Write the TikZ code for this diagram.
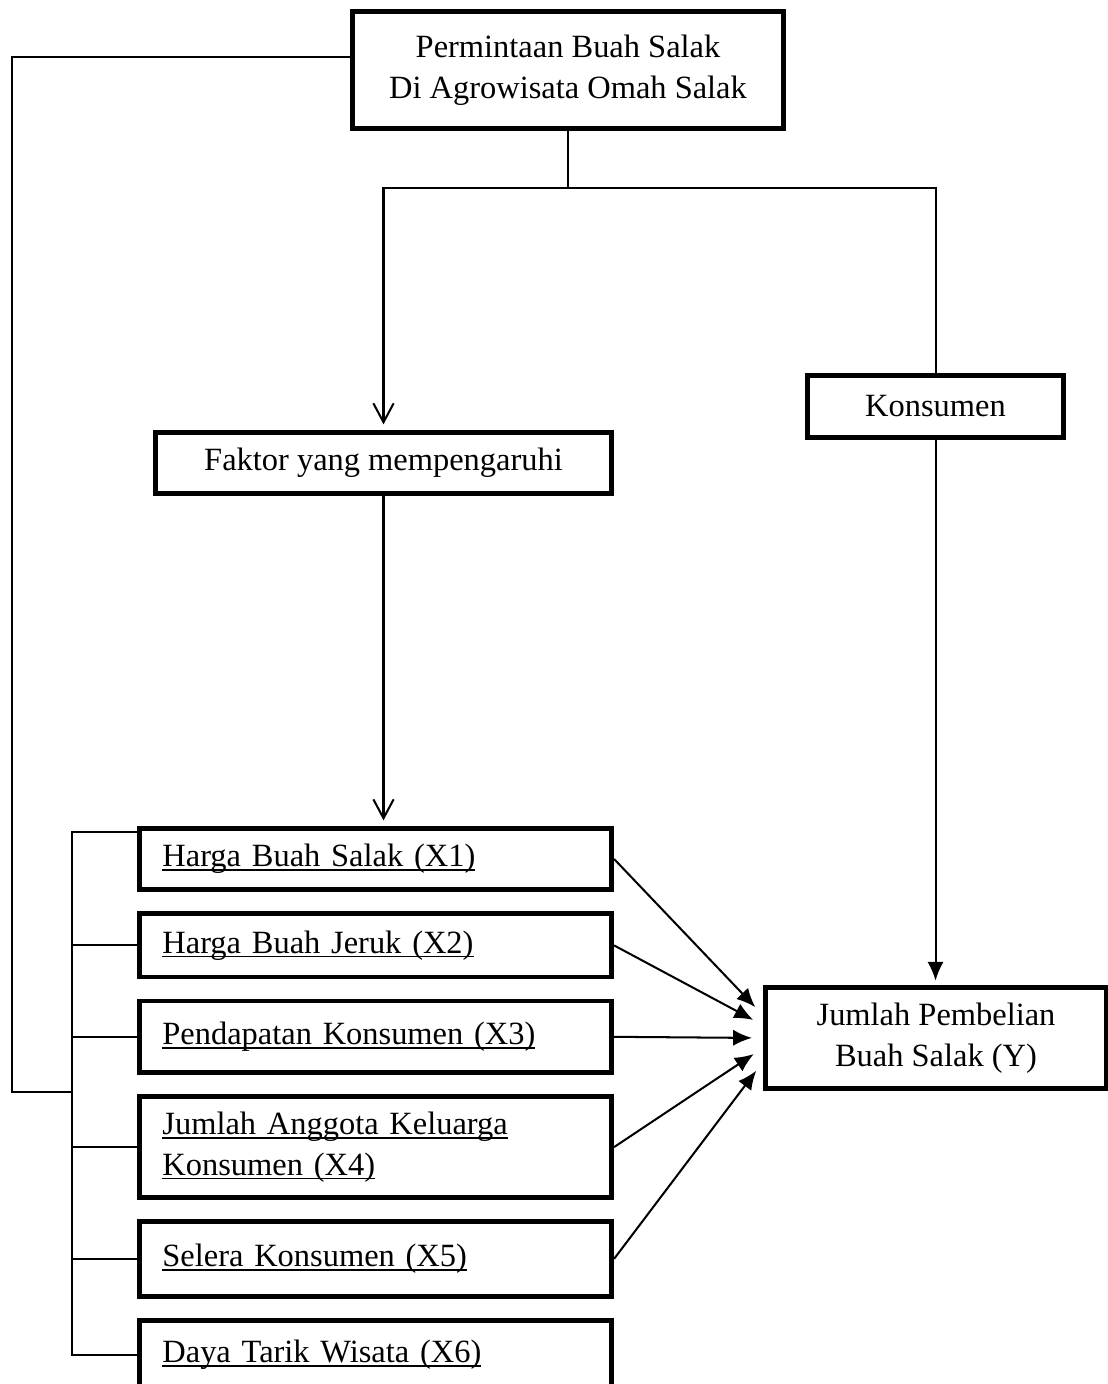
\documentclass[tikz,border=0pt]{standalone}
\usepackage{fontspec}
\setmainfont{Liberation Serif}
\usepackage{tikz}
\usetikzlibrary{arrows.meta, positioning}
\newsavebox{\ulbox}
\newcommand{\uln}[1]{\leavevmode\sbox{\ulbox}{#1}\rlap{\rule[-1.6pt]{\wd\ulbox}{0.6pt}}\usebox{\ulbox}}
\tikzstyle{box} = [rectangle, draw=black, line width=1.8pt, align=center, font=\fontsize{12}{15}\selectfont]
\tikzstyle{factor} = [box, text width=5.54cm, inner xsep=0.3cm, align=left]
\tikzstyle{line} = [line width=0.75pt]
\tikzstyle{openarrow} = [line, -{Straight Barb[length=7pt,width=7.5pt]}, shorten >=2pt]
\tikzstyle{arrow} = [line, -{Latex[length=7pt,width=6pt]}]

\begin{document}
\begin{tikzpicture}[x=0.013cm, y=-0.013cm, node distance=0.25cm]
\useasboundingbox (0,0) rectangle (1107,1384);

% Nodes
\node (demand) [box, minimum width=5.6cm, minimum height=1.51cm] at (568,70) {Permintaan Buah Salak\\Di Agrowisata Omah Salak};
\node (factors) [box, minimum width=5.93cm, minimum height=0.8cm] at (383.5,463) {Faktor yang mempengaruhi};
\node (consumer) [box, minimum width=3.33cm, minimum height=0.81cm] at (935.5,406.5) {Konsumen};
\node (purchase) [box, minimum width=4.44cm, minimum height=1.32cm] at (936,1038) {Jumlah Pembelian\\Buah Salak (Y)};
\node (x1) [factor, minimum height=0.8cm] at (375.5,859) {\uln{Harga Buah Salak (X1)}};
\node (x2) [factor, minimum height=0.82cm, below=of x1] {\uln{Harga Buah Jeruk (X2)}};
\node (x3) [factor, minimum height=0.93cm, below=of x2] {\uln{Pendapatan Konsumen (X3)}};
\node (x4) [factor, minimum height=1.31cm, below=of x3] {\uln{Jumlah Anggota Keluarga}\\\uln{Konsumen (X4)}};
\node (x5) [factor, minimum height=0.97cm, below=of x4] {\uln{Selera Konsumen (X5)}};
\node (x6) [factor, minimum height=0.9cm, below=of x5] {\uln{Daya Tarik Wisata (X6)}};

\coordinate (split) at (568,188);
\coordinate (bk) at (72,1092);
\coordinate (outer) at (12,1092);

% Arrows
\draw [line] (demand) -- (split);
\draw [openarrow] (split) -| (factors);
\draw [line] (split) -| (consumer);
\draw [openarrow] (factors.south) -- (factors.south |- x1.north);
\draw [arrow, shorten >=1.5pt] (consumer.south) -- (consumer.south |- purchase.north);
\foreach \n/\s in {x1/8.5pt, x2/4.8pt, x3/0pt, x4/-3.7pt, x5/-8.9pt}
  \draw [arrow, shorten >=4pt] (\n.east) -- ([yshift=\s]purchase.west);

% Bracket
\draw [line] ([yshift=-2.2pt]x1.north west) -| (bk) |- (x6.west);
\foreach \n in {x2,x3,x4,x5}
  \draw [line] (\n.west) -- (\n.west -| bk);
\draw [line] ([yshift=0.17cm]demand.west) -| (outer) -- (bk);

\end{tikzpicture}
\end{document}
